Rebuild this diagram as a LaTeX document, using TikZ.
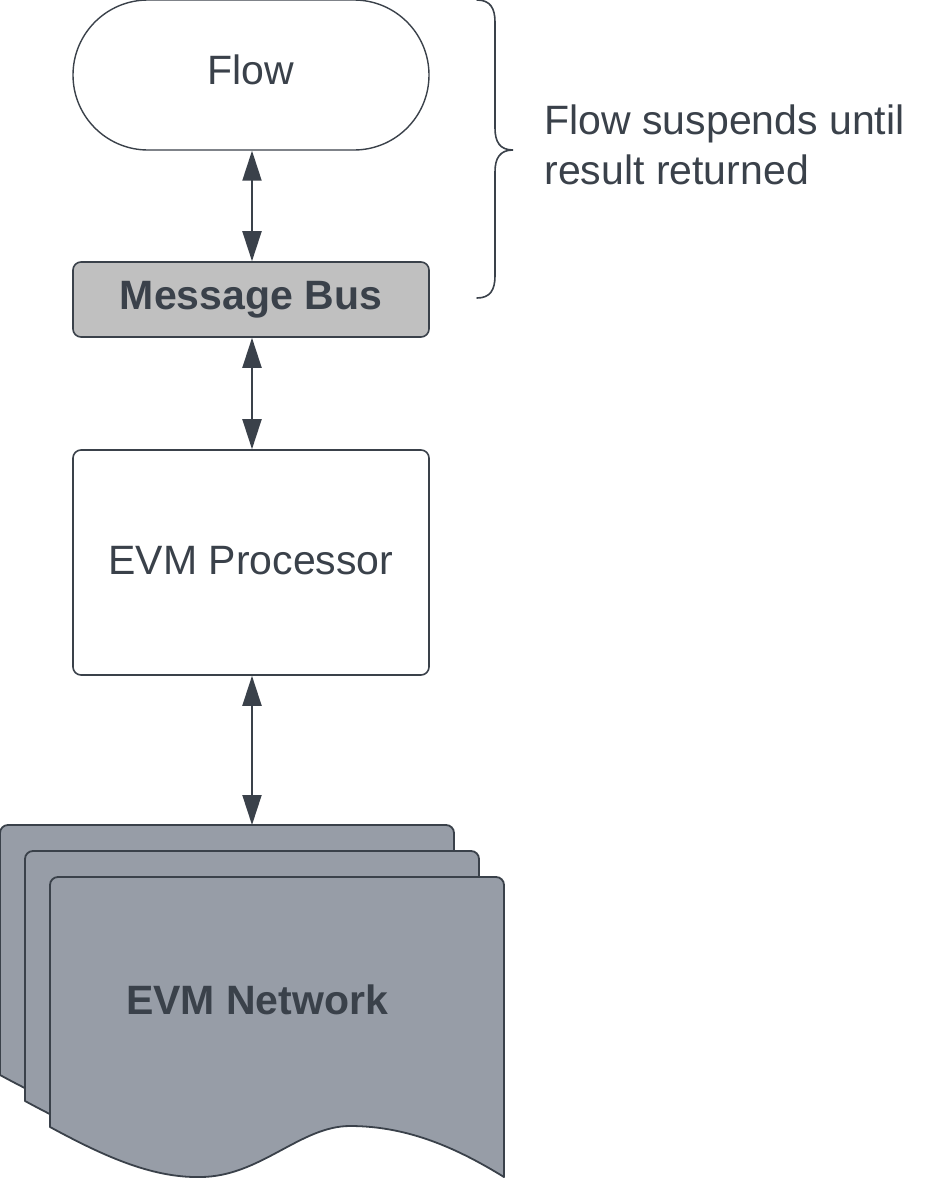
\documentclass[tikz,border=0pt]{standalone}
\usepackage{fontspec}
\setmainfont{Liberation Sans}
\usetikzlibrary{shapes.misc,arrows.meta}
\definecolor{ink}{HTML}{3A414A}
\definecolor{busfill}{HTML}{C0C0C0}
\definecolor{netfill}{HTML}{979DA7}
\tikzset{
  boxtext/.style={font=\fontsize{41}{50}\selectfont, text=ink},
  procbox/.style={draw=ink, line width=1.6pt, rounded corners=8pt, minimum width=356pt, inner sep=0pt, boxtext},
  conn/.style={draw=ink, line width=2pt, {Triangle[length=30pt,width=19pt]}-{Triangle[length=30pt,width=19pt]}},
  sheet/.style={draw=ink, line width=1.8pt, fill=netfill, line join=round}
}
\begin{document}
\begin{tikzpicture}[x=1pt,y=-1pt]
\useasboundingbox (0,0) rectangle (926,1179);
% Flow terminator
\node[rounded rectangle, draw=ink, line width=1.4pt, minimum width=356pt, minimum height=150pt, inner sep=0pt, boxtext, text depth=10pt] (flow) at (251,75) {Flow};
% Message Bus
\node[procbox, fill=busfill, minimum height=75pt, font=\fontsize{41}{50}\selectfont\bfseries] (bus) at (251,299.5) {Message Bus};
% EVM Processor
\node[procbox, minimum height=225pt, text depth=4pt] (proc) at (251,562.5) {EVM Processor};
% Multi-document: three sheets
\foreach \dx/\dy in {0/0, 25/26, 50/52} {
  \begin{scope}[shift={(\dx,\dy)}]
  \path[sheet] (0,1075) [rounded corners=8pt] -- (0,825) -- (454,825) [sharp corners] -- (454,1125)
    .. controls (410,1098) and (360,1074) .. (300,1074)
    .. controls (250,1074) and (210,1125) .. (150,1125)
    .. controls (100,1126) and (50,1102) .. cycle;
  \end{scope}
}
\coordinate (nettop) at (252,825);
\node[boxtext, font=\fontsize{41}{50}\selectfont\bfseries] (net) at (257,1000) {EVM Network};
% connectors
\draw[conn] (flow.south -| 252,0) -- (bus.north -| 252,0);
\draw[conn] (bus.south -| 252,0) -- (proc.north -| 252,0);
\draw[conn] (proc.south -| 252,0) -- (nettop);
% brace
\draw[ink, line width=1.6pt, line cap=round] (477,0) .. controls (490,0) and (495,8) .. (495,22) -- (495,128)
  .. controls (495,142) and (500,150) .. (513,150)
  .. controls (500,150) and (495,158) .. (495,172) -- (495,276)
  .. controls (495,290) and (490,298) .. (477,298);
\node[boxtext, align=left, anchor=west] (note) at (541,145) {Flow suspends until\\result returned};
\end{tikzpicture}
\end{document}
